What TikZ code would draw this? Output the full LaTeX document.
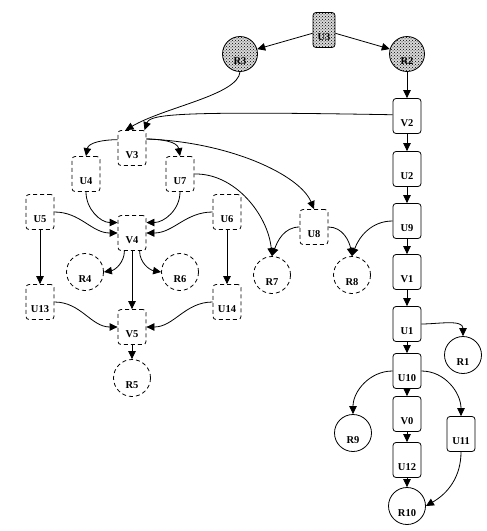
\documentclass[tikz,border=0pt]{standalone}
\usepackage{fontspec}
\setmainfont{Liberation Serif}
\usetikzlibrary{shapes}
\usetikzlibrary{arrows.meta}
\usetikzlibrary{patterns}

\begin{document}
\begin{tikzpicture}[
    x=1pt, y=1pt,
    thick,
    font=\bfseries\fontsize{10.5}{12}\selectfont
]
\tikzset{
    ubox/.style = {rectangle, rounded corners=3pt, draw=black, minimum width=28pt, minimum height=35pt, inner sep=1pt, text height=22pt, text depth=1pt},
    uboxd/.style = {ubox, dash pattern=on 4pt off 3pt},
    ubfill/.style = {ubox, minimum width=22pt, preaction={fill=gray!30}, pattern=crosshatch dots},
    rnode/.style = {circle, draw=black, minimum size=37pt, inner sep=1pt, text height=22pt, text depth=1pt},
    rnoded/.style = {rnode, dash pattern=on 4pt off 3pt},
    rnfill/.style = {rnode, minimum size=35pt, preaction={fill=gray!30}, pattern=crosshatch dots},
    edgen/.style = {-{Triangle[length=8pt,width=7.5pt]}, thick}
}
\useasboundingbox (0,0) rectangle (487,-531);
% right column
\node[ubfill] at (324,-30) (U3) {U3};
\node[rnfill] at (240,-54) (R3) {R3};
\node[rnfill] at (407,-54) (R2) {R2};
\node[ubox] at (407,-116) (V2) {V2};
\node[ubox] at (407,-169) (U2) {U2};
\node[ubox] at (407,-221) (U9) {U9};
\node[ubox] at (407,-272) (V1) {V1};
\node[ubox] at (407,-324) (U1) {U1};
\node[rnode] at (463,-355) (R1) {R1};
\node[ubox] at (407,-371) (U10) {U10};
\node[ubox] at (407,-414) (V0) {V0};
\node[ubox] at (407,-460) (U12) {U12};
\node[ubox] at (461,-434) (U11) {U11};
\node[rnode] at (353,-433) (R9) {R9};
\node[rnode] at (407,-506) (R10) {R10};
\node[uboxd] at (314,-227) (U8) {U8};
\node[rnoded] at (272,-275) (R7) {R7};
\node[rnoded] at (352,-275) (R8) {R8};
% left part
\node[uboxd] at (132,-148) (V3) {V3};
\node[uboxd] at (86,-174) (U4) {U4};
\node[uboxd] at (180,-174) (U7) {U7};
\node[uboxd] at (40,-212) (U5) {U5};
\node[uboxd] at (227,-212) (U6) {U6};
\node[uboxd] at (132,-233) (V4) {V4};
\node[rnoded] at (85,-272) (R4) {R4};
\node[rnoded] at (180,-272) (R6) {R6};
\node[uboxd] at (40,-302) (U13) {U13};
\node[uboxd] at (227,-302) (U14) {U14};
\node[uboxd] at (132,-327) (V5) {V5};
\node[rnoded] at (132,-378) (R5) {R5};
% edges
\draw[edgen] (U3) edge (R3);
\draw[edgen] (U3) edge (R2);
\draw[edgen] (R2) edge (V2);
\draw[edgen] (R3.south) .. controls (238,-95) and (165,-107) .. (V3.110);
\draw[edgen] (V2.175) .. controls (180,-111) and (150,-114) .. (V3.55);
\draw[edgen] (V2) edge (U2);
\draw[edgen] (U2) edge (U9);
\draw[edgen] (U9) edge (V1);
\draw[edgen] (V1) edge (U1);
\draw[edgen] (U1) edge (U10);
\draw[edgen] (U10) edge (V0);
\draw[edgen] (V0) edge (U12);
\draw[edgen] (U12) edge (R10);
\draw[edgen] (U1.east) to[out=0, in=90] (R1.north);
\draw[edgen] (U10.east) to[out=0, in=90] (U11.north);
\draw[edgen] (U10.west) to[out=180, in=90] (R9.north);
\draw[edgen] (U11.south) to[out=-90, in=30] (R10.east);
\draw[edgen] (U9.west) to[out=180, in=70] (R8.north);
\draw[edgen] (U8.east) to[out=0, in=100] (R8.north);
\draw[edgen] (U8.west) to[out=180, in=70] (R7.north);
\draw[edgen] (U7.east) .. controls (235,-173) and (268,-215) .. (R7.north);
\draw[edgen] (V3.32) .. controls (230,-142) and (300,-175) .. (U8.north);
\draw[edgen] (V3.150) to[out=180, in=80] (U4.north);
\draw[edgen] (V3.32) to[out=0, in=100] (U7.north);
\draw[edgen] (U4.south) to[out=-90, in=180] (V4.144);
\draw[edgen] (U7.south) to[out=-90, in=0] (V4.36);
\draw[edgen] (U5.east) to[out=0, in=180] (V4.west);
\draw[edgen] (U6.west) to[out=180, in=0] (V4.east);
\draw[edgen] (V4.247) to[out=-90, in=10] (R4.east);
\draw[edgen] (V4.293) to[out=-90, in=170] (R6.west);
\draw[edgen] (V4) edge (V5);
\draw[edgen] (U5) edge (U13);
\draw[edgen] (U6) edge (U14);
\draw[edgen] (U13.east) to[out=0, in=180] (V5.west);
\draw[edgen] (U14.west) to[out=180, in=0] (V5.east);
\draw[edgen] (V5) edge (R5);
\end{tikzpicture}
\end{document}
